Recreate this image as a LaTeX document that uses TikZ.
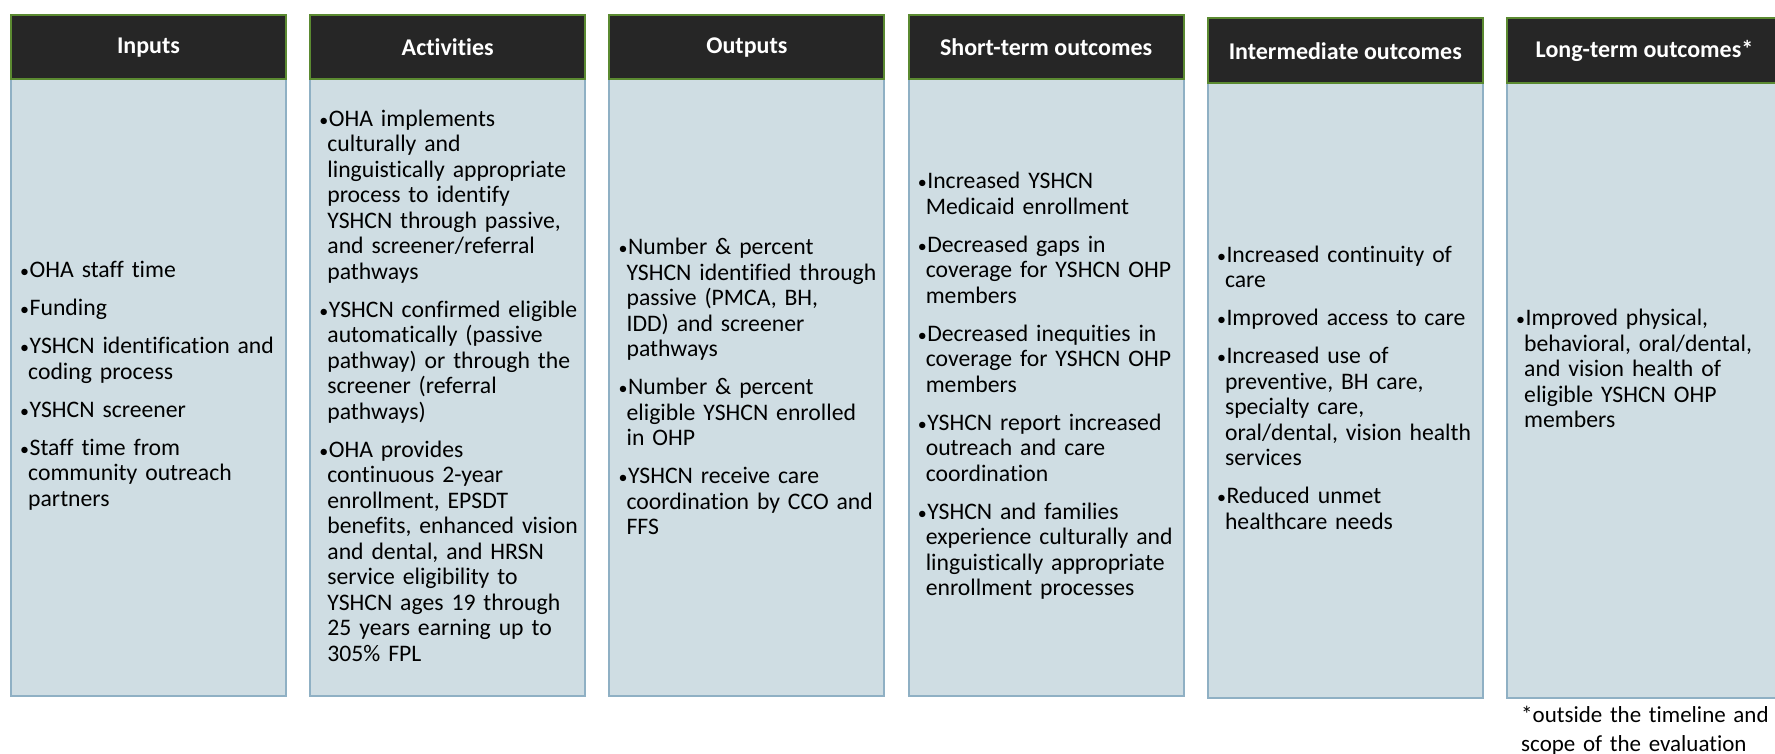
\documentclass[tikz,border=0pt]{standalone}
\usepackage{fontspec}
\setmainfont{Carlito}[Ligatures=NoCommon]
\definecolor{hdrfill}{HTML}{262626}
\definecolor{hdrline}{HTML}{5B8A31}
\definecolor{bodyfill}{HTML}{CFDDE3}
\definecolor{bodyline}{HTML}{8FB0C4}
\newcommand{\itm}[1]{\par\hangindent=8pt\hangafter=1\noindent\makebox[9.5pt][l]{\fontsize{18}{18}\selectfont•}#1}
\newcommand{\nl}{\newline}
\tikzset{
  hdr/.style={draw=hdrline, fill=hdrfill, line width=2pt, minimum width=275pt,
    minimum height=64.5pt, anchor=north west, inner sep=0pt, text=white,
    font=\bfseries\fontsize{24}{26}\selectfont},
  bodybox/.style={draw=bodyline, fill=bodyfill, line width=2pt, minimum width=275pt,
    anchor=north west, inner sep=0pt},
  items/.style={anchor=west, inner sep=0pt, text width=268pt, align=left,
    font=\fontsize{23.7}{25.5}\selectfont},
  foot/.style={anchor=base west, inner sep=0pt, text width=252pt, align=left,
    font=\fontsize{23}{28.5}\selectfont}
}
\begin{document}
\begin{tikzpicture}[x=1pt,y=1pt]
\useasboundingbox (0,0) rectangle (1775,-754);
\clip (0,0) rectangle (1775,-754);
% bodies
\node[bodybox, minimum height=616.5pt] (b1) at (10,-78) {};
\node[bodybox, minimum height=616.5pt] (b2) at (309.2,-78) {};
\node[bodybox, minimum height=616.5pt] (b3) at (608.4,-78) {};
\node[bodybox, minimum height=616.5pt] (b4) at (907.6,-78) {};
\node[bodybox, minimum height=615pt] (b5) at (1206.8,-82) {};
\node[bodybox, minimum height=615pt] (b6) at (1506,-82) {};
% headers
\node[hdr] (h1) at (10,-14) {Inputs};
\node[hdr] (h2) at (309.2,-14) {Activities};
\node[hdr] (h3) at (608.4,-14) {Outputs};
\node[hdr] (h4) at (907.6,-14) {Short-term outcomes};
\node[hdr] (h5) at (1206.8,-17.5) {Intermediate outcomes};
\node[hdr] (h6) at (1506,-17.5) {Long-term outcomes*};
% items
\node[items] (t1) at (20,-375) {\setlength{\parskip}{12.5pt}%
\itm{OHA staff time}
\itm{Funding}
\itm{YSHCN identification and\nl coding process}
\itm{YSHCN screener}
\itm{Staff time from\nl community outreach\nl partners}\par};
\node[items] (t2) at (319.2,-375) {\setlength{\parskip}{12.5pt}%
\itm{OHA implements\nl culturally and\nl linguistically appropriate\nl process to identify\nl YSHCN through passive,\nl and screener/referral\nl pathways}
\itm{YSHCN confirmed eligible\nl automatically (passive\nl pathway) or through the\nl screener (referral\nl pathways)}
\itm{OHA provides\nl continuous 2-year\nl enrollment, EPSDT\nl benefits, enhanced vision\nl and dental, and HRSN\nl service eligibility to\nl YSHCN ages 19 through\nl 25 years earning up to\nl 305\% FPL}\par};
\node[items] (t3) at (618.4,-376) {\setlength{\parskip}{12.5pt}%
\itm{Number \& percent\nl YSHCN identified through\nl passive (PMCA, BH,\nl IDD) and screener\nl pathways}
\itm{Number \& percent\nl eligible YSHCN enrolled\nl in OHP}
\itm{YSHCN receive care\nl coordination by CCO and\nl FFS}\par};
\node[items] (t4) at (917.6,-375) {\setlength{\parskip}{12.5pt}%
\itm{Increased YSHCN\nl Medicaid enrollment}
\itm{Decreased gaps in\nl coverage for YSHCN OHP\nl members}
\itm{Decreased inequities in\nl coverage for YSHCN OHP\nl members}
\itm{YSHCN report increased\nl outreach and care\nl coordination}
\itm{YSHCN and families\nl experience culturally and\nl linguistically appropriate\nl enrollment processes}\par};
\node[items] (t5) at (1216.8,-377) {\setlength{\parskip}{12.5pt}%
\itm{Increased continuity of\nl care}
\itm{Improved access to care}
\itm{Increased use of\nl preventive, BH care,\nl specialty care,\nl oral/dental, vision health\nl services}
\itm{Reduced unmet\nl healthcare needs}\par};
\node[items] (t6) at (1516,-358) {\setlength{\parskip}{12.5pt}%
\itm{Improved physical,\nl behavioral, oral/dental,\nl and vision health of\nl eligible YSHCN OHP\nl members}\par};
% footnote
\node[foot] (fn) at (1521,-722.5) {*outside the timeline and\\scope of the evaluation};
\end{tikzpicture}
\end{document}
